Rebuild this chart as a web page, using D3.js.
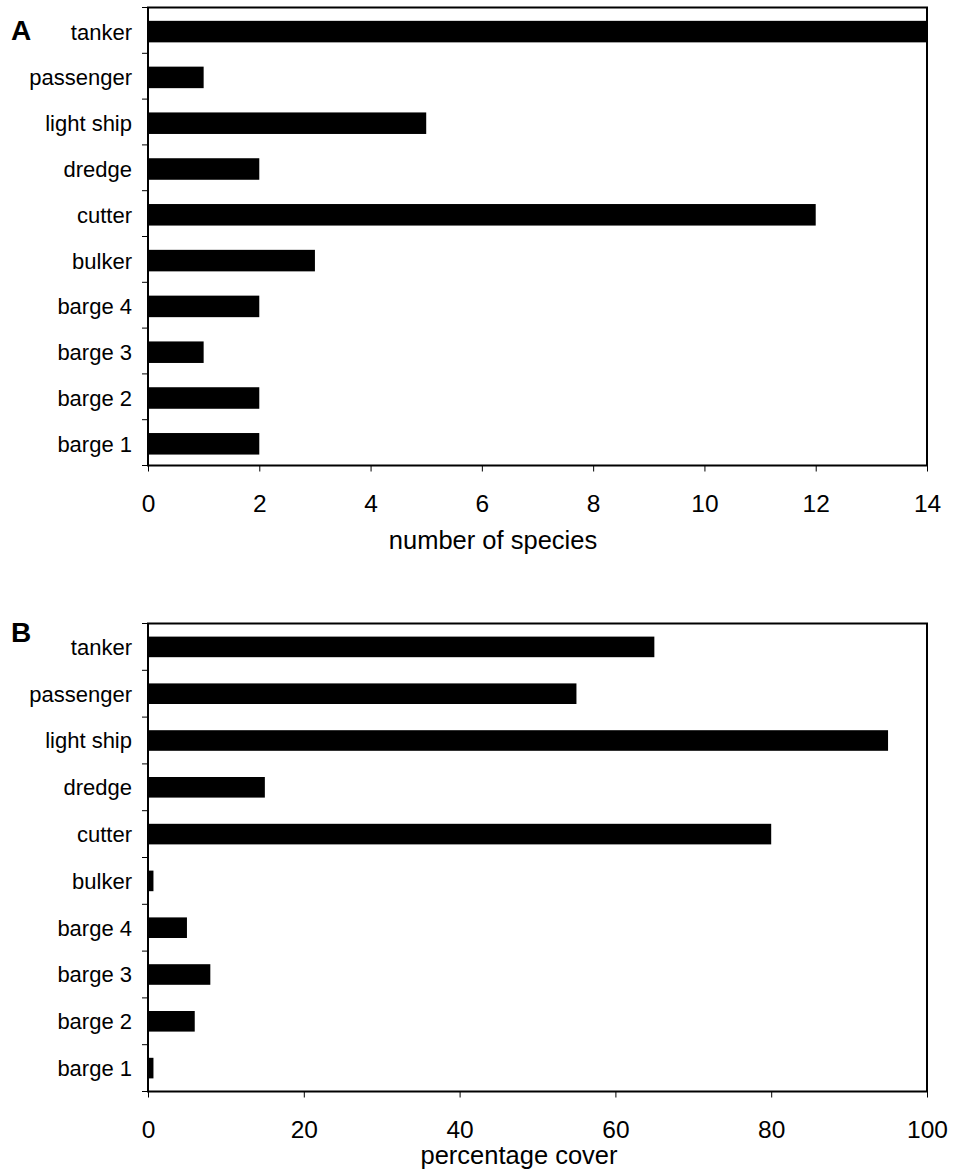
<!DOCTYPE html>
<html>
<head>
<meta charset="utf-8">
<script src="https://cdn.jsdelivr.net/npm/d3@7"></script>
<style>
  body { margin: 0; background: #fff; }
  svg text { font-family: Arial, "Liberation Sans", sans-serif; fill: #000; }
</style>
</head>
<body>
<script>
// categories, bottom to top as drawn
var categories = ["barge 1", "barge 2", "barge 3", "barge 4", "bulker", "cutter", "dredge", "light ship", "passenger", "tanker"];

// panel A: number of species
var speciesCount = [2, 2, 1, 2, 3, 12, 2, 5, 1, 14];
var speciesTicks = [0, 2, 4, 6, 8, 10, 12, 14];

// panel B: percentage cover
var percentCover = [0.7, 6, 8, 5, 0.7, 80, 15, 95, 55, 65];
var percentTicks = [0, 20, 40, 60, 80, 100];

var width = 955, height = 1175;

var svg = d3.select("body")
    .append("svg")
    .attr("width", width)
    .attr("height", height);

//draw one panel
function drawPanel(opt){
    var x = d3.scaleLinear()
        .domain([0, opt.max])
        .range([opt.left, opt.right]);

    var y = d3.scaleBand()
        .domain(categories.slice().reverse())
        .range([opt.top + opt.shift, opt.bottom + opt.shift])
        .paddingInner(opt.pad)
        .paddingOuter(opt.pad / 2);

    var g = svg.append("g");

    //bars
    g.selectAll(".bar")
        .data(categories.map(function(c, i){ return {cat: c, val: opt.values[i]}; }))
        .enter()
        .append("rect")
        .attr("class", "bar")
        .attr("x", x(0))
        .attr("y", function(d){ return y(d.cat); })
        .attr("width", function(d){ return x(d.val) - x(0); })
        .attr("height", y.bandwidth())
        .attr("fill", "#000");

    //frame
    g.append("rect")
        .attr("x", opt.left)
        .attr("y", opt.top)
        .attr("width", opt.right - opt.left)
        .attr("height", opt.bottom - opt.top)
        .attr("fill", "none")
        .attr("stroke", "#000")
        .attr("stroke-width", 2);

    //y ticks at band boundaries
    var step = (opt.bottom - opt.top) / categories.length;
    var bounds = d3.range(categories.length + 1).map(function(i){ return opt.top + i * step; });
    g.selectAll(".ytick")
        .data(bounds)
        .enter()
        .append("line")
        .attr("x1", opt.left - 6)
        .attr("x2", opt.left)
        .attr("y1", function(d){ return d; })
        .attr("y2", function(d){ return d; })
        .attr("stroke", "#000")
        .attr("stroke-width", 1);

    //category labels
    g.selectAll(".ylab")
        .data(categories)
        .enter()
        .append("text")
        .attr("x", opt.left - 16)
        .attr("y", function(d){ return y(d) + y.bandwidth() / 2; })
        .attr("dy", "0.36em")
        .attr("text-anchor", "end")
        .style("font-size", "22px")
        .text(function(d){ return d; });

    //x axis
    var xAxis = d3.axisBottom(x)
        .tickValues(opt.ticks)
        .tickSize(6)
        .tickFormat(d3.format("d"));

    var ax = g.append("g")
        .attr("transform", "translate(0," + opt.bottom + ")")
        .call(xAxis);
    ax.select(".domain").remove();
    ax.selectAll("line").attr("stroke", "#000");
    ax.selectAll("text")
        .attr("y", 46)
        .attr("dy", null)
        .attr("fill", "#000")
        .style("font-size", "24.5px");

    //axis title
    g.append("text")
        .attr("x", opt.titleX)
        .attr("y", opt.titleY)
        .attr("text-anchor", "middle")
        .style("font-size", "25.5px")
        .text(opt.title);

    //panel letter
    g.append("text")
        .attr("x", 11)
        .attr("y", opt.letterY)
        .style("font-size", "28px")
        .style("font-weight", "bold")
        .text(opt.letter);
}

drawPanel({
    values: speciesCount, ticks: speciesTicks, max: 14,
    left: 148, right: 927, top: 7.5, bottom: 465.5, pad: 0.53, shift: 1.2,
    title: "number of species", titleX: 493, titleY: 549, letter: "A", letterY: 40
});

drawPanel({
    values: percentCover, ticks: percentTicks, max: 100,
    left: 148, right: 927, top: 623.5, bottom: 1091.5, pad: 0.56, shift: 0,
    title: "percentage cover", titleX: 519, titleY: 1164, letter: "B", letterY: 642
});
</script>
</body>
</html>
